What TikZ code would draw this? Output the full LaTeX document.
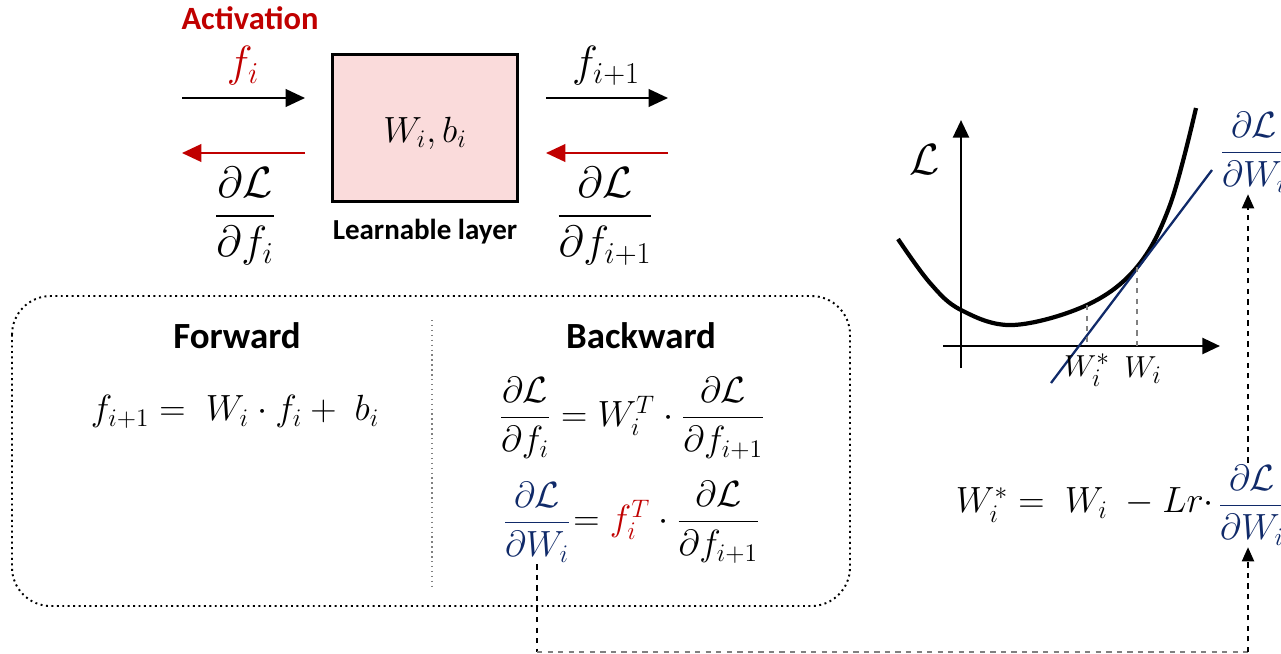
\documentclass[tikz,border=0pt]{standalone}
\usepackage{fontspec}
\setmainfont{Carlito}
\usepackage{amsmath}
\usepackage{xcolor}
\usepackage{tikz}
\usetikzlibrary{arrows.meta,positioning,calc}
\definecolor{act}{RGB}{192,0,0}
\definecolor{grd}{RGB}{16,42,105}
\definecolor{lyr}{RGB}{250,219,219}
\tikzset{
  mth/.style={font=\fontsize{21}{25}\selectfont,inner sep=1pt},
  big/.style={font=\fontsize{23.5}{28}\selectfont,inner sep=1pt},
  lbl/.style={font=\fontsize{16.5}{20}\selectfont\bfseries},
  hd/.style={font=\fontsize{21}{25}\selectfont\bfseries},
  fw/.style={-{Triangle[length=11pt,width=10pt]},line width=1.2pt},
  bw/.style={fw,color=act},
  ax/.style={-{Triangle[length=10pt,width=9pt]},line width=1.6pt},
  lnk/.style={dashed,line width=0.7pt},
  gl/.style={dashed,gray,line width=0.6pt},
}

\begin{document}
\begin{tikzpicture}[x=0.02cm,y=-0.02cm]
  \useasboundingbox (0,0) rectangle (1281,653);

  % learnable layer and its in/out signals
  \node[draw,line width=1.2pt,fill=lyr,minimum width=3.7cm,minimum height=2.94cm] (layer) at (425,128) {};
  \node[mth] (wb) at (425,133) {$W_i, b_i$};
  \node[lbl,below=0.2cm of layer] (ll) {Learnable layer};
  \node[lbl,text=act,font=\fontsize{18.5}{22}\selectfont\bfseries] (act) at (250,18) {Activation};

  \coordinate (i1) at (182,98);  \coordinate (i2) at (305,98);
  \coordinate (i3) at (305,153); \coordinate (i4) at (182,153);
  \coordinate (o1) at (546,98);  \coordinate (o2) at (668,98);
  \coordinate (o3) at (668,153); \coordinate (o4) at (546,153);
  \draw[fw] (i1) -- (i2);
  \draw[bw] (i3) -- (i4);
  \draw[fw] (o1) -- (o2);
  \draw[bw] (o3) -- (o4);

  \node[big,text=act] (fi) at (243,66) {$f_i$};
  \node[big] (fo) at (606,66) {$f_{i+1}$};
  \node[big] (gi) at (245,216) {$\dfrac{\partial\mathcal{L}}{\partial f_i}$};
  \node[big] (go) at (605,216) {$\dfrac{\partial\mathcal{L}}{\partial f_{i+1}}$};

  % forward / backward panel
  \draw[dotted,line width=1.1pt,rounded corners=22pt] (12,296) rectangle (850,606);
  \draw[gray,dotted,line width=0.8pt] (432,320) -- (432,590);
  \node[hd] (fwd) at (237,336) {Forward};
  \node[hd] (bwd) at (641,336) {Backward};
  \node[mth] (feq) at (235,412) {$f_{i+1} =\; W_i\cdot f_i +\; b_i$};
  \node[mth] (beq) at (632,418)
    {$\dfrac{\partial\mathcal{L}}{\partial f_i} = W_i^{T}\cdot\dfrac{\partial\mathcal{L}}{\partial f_{i+1}}$};
  \node[mth,text=grd] (dw) at (537,522) {$\dfrac{\partial\mathcal{L}}{\partial W_i}$};
  \node[mth,anchor=west,inner sep=0pt] (weq) at (dw.east)
    {$= \textcolor{act}{f_i^{T}}\cdot\dfrac{\partial\mathcal{L}}{\partial f_{i+1}}$};

  % loss curve
  \draw[ax] (961,368) -- (961,120);
  \draw[ax] (943,346) -- (1220,346);
  \node[big] (lo) at (925,160) {$\mathcal{L}$};
  \draw[line width=2.4pt] plot[smooth,tension=0.6] coordinates
    {(898,239) (930,283) (961,310) (1013,325) (1087,305) (1137,267) (1170,205) (1196,108)};
  \draw[grd,line width=1.3pt] (1051,383) -- (1212,170);
  \draw[gl] (1087,305) -- (1087,346);
  \draw[gl] (1137,267) -- (1137,346);
  \node[mth,font=\fontsize{19}{23}\selectfont] (ws) at (1087,370) {$W_i^{*}$};
  \node[mth,font=\fontsize{19}{23}\selectfont] (wi) at (1143,370) {$W_i$};

  % update rule
  \node[mth,text=grd,anchor=west] (gf) at (1218,152) {$\dfrac{\partial\mathcal{L}}{\partial W_i}$};
  \node[mth,text=grd,anchor=west] (uf) at (1216,505) {$\dfrac{\partial\mathcal{L}}{\partial W_i}$};
  \node[mth,anchor=east,font=\fontsize{22}{26}\selectfont] (upd) at (uf.west) {$W_i^{*} =\; W_i\; - Lr\cdot$};

  \coordinate (c1) at (dw.south |- 0,652);
  \coordinate (c2) at (1248,652);
  \draw[lnk] (dw.south) -- (c1);
  \draw[lnk,gray] (c1) -- (c2);
  \draw[lnk,-{Triangle[length=8pt,width=7pt]}] (c2) -- (c2 |- uf.south);
  \draw[lnk,-{Triangle[length=8pt,width=7pt]}] (c2 |- uf.north) -- (c2 |- gf.south);
\end{tikzpicture}
\end{document}
